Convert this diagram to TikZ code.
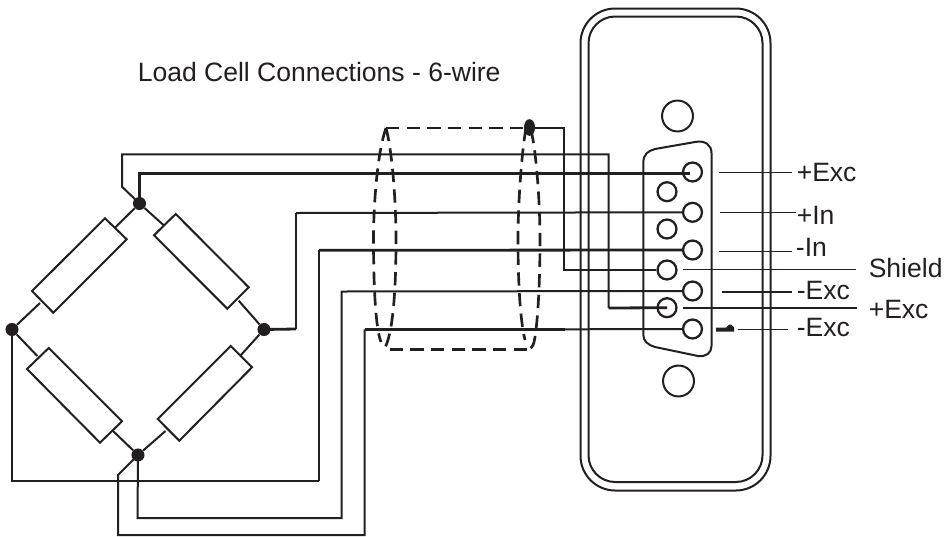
\documentclass[tikz,border=0pt]{standalone}
\usepackage{fontspec}
\usetikzlibrary{shapes.geometric}
\setmainfont{Liberation Sans}
\definecolor{ink}{HTML}{231F20}
\tikzset{
  x=0.75pt,y=-0.75pt,
  wire/.style={draw=ink,line width=1.5pt,line join=miter},
  heavywire/.style={draw=ink,line width=2.1pt},
  res/.style={draw=ink,line width=1.5pt,fill=white},
  lead/.style={draw=ink,line width=0.95pt},
  pin/.style={circle,draw=ink,line width=1.7pt,minimum size=14.2pt,inner sep=0pt,fill=white},
  hole/.style={circle,draw=ink,line width=1.5pt,minimum size=23.2pt,inner sep=0pt},
  junction/.style={circle,fill=ink,minimum size=9.8pt,inner sep=0pt},
  tallblob/.style={ellipse,fill=ink,minimum width=8.3pt,minimum height=12.5pt,inner sep=0pt},
  label/.style={font=\fontsize{19.9pt}{19.9pt}\selectfont,text=ink,inner sep=0pt,anchor=base west},
  shieldline/.style={draw=ink,line width=2pt,dash pattern=on 10pt off 5.5pt},
}
\begin{document}
\begin{tikzpicture}
\useasboundingbox (0,0) rectangle (944,536);
\fill[white] (0,0) rectangle (944,536);

% housing
\draw[draw=ink,line width=1.5pt,rounded corners=26pt] (580.5,8.5) rectangle (770.5,490.5);
\draw[draw=ink,line width=1.5pt,rounded corners=20pt] (588.5,16.5) rectangle (762.5,482);
\node[hole] (holetop) at (677.5,116) {};
\node[hole] (holebot) at (678.5,381) {};

% connector shell
\draw[draw=ink,line width=1.5pt] (643.3,163) .. controls (643.3,154) and (648,151) .. (655,149)
  -- (695,142) .. controls (705,140) and (711.5,145) .. (711.5,153)
  -- (711.5,346) .. controls (711.5,353) and (706,357) .. (698,356)
  -- (655,347) .. controls (648,345) and (643.3,341) .. (643.3,335) -- cycle;

% junctions
\node[junction] (top) at (139.5,203.5) {};
\node[junction] (left) at (12,329.5) {};
\node[junction] (right) at (264,329.5) {};
\node[junction] (bot) at (138,455) {};
\node[tallblob] (sh) at (529.5,127.5) {};

% pins
\node[pin] (p1) at (692.5,172) {};
\node[pin] (p2) at (692.5,212.3) {};
\node[pin] (p3) at (692.5,250) {};
\node[pin] (p4) at (692.5,291) {};
\node[pin] (p5) at (692.5,329) {};
\node[pin] (q1) at (667,191.7) {};
\node[pin] (q2) at (667,229) {};
\node[pin] (q3) at (667,270) {};
\node[pin] (q4) at (667,307.7) {};

% resistors
\draw[res] (105,218.3) -- (126.7,239.3) -- (53.3,312.7) -- (32,291) -- cycle;
\draw[res] (175.7,214) -- (248.7,287.3) -- (227.3,308.7) -- (154,235.3) -- cycle;
\draw[res] (48.7,348) -- (122,421.3) -- (100,442.7) -- (27,369) -- cycle;
\draw[res] (230.7,346) -- (252,367.3) -- (179.3,440.7) -- (157.7,419) -- cycle;

% resistor leads
\coordinate (a1) at (115,227.7);
\coordinate (a2) at (164,225.5);
\coordinate (a3) at (40,303);
\coordinate (a4) at (37.3,356);
\coordinate (a5) at (112.7,430.7);
\coordinate (a6) at (165.5,431);
\coordinate (a7) at (238.7,300.7);
\coordinate (a8) at (240.7,355.3);
\draw[wire] (top) -- (a1) (top) -- (a2) (left) -- (a3) (left) -- (a4)
  (bot) -- (a5) (bot) -- (a6) (right) -- (a7) (right) -- (a8);

% wires
\draw[wire] (top.center) -- (122,186.7) -- (122,154.3) -- (608.7,154.3) -- (608.7,308);
\draw[heavywire] (608.7,308) -- (q4.center);
\draw[heavywire] (top.center) -- (139.5,173.2) -- (690,173.2);
\draw[wire] (296,213) -- (p2.west);
\draw[wire] (296,329) -- (296,213);
\draw[heavywire] (right.center) -- (296,329);
\draw[wire] (319,481) -- (319,250.3);
\draw[wire] (left.center) -- (12,481) -- (319,481);
\draw[heavywire] (319,250.3) -- (p3.west);
\draw[wire] (bot.center) -- (137.5,518) -- (341.5,518) -- (341.5,291.5) -- (p4.west);
\draw[wire] (bot.center) -- (118,475) -- (118,535) -- (364.5,535) -- (364.5,329.3);
\draw[heavywire] (364.5,329.3) -- (565,329.3);
\draw[wire] (565,329.3) -- (p5.west);
\draw[wire] (sh.center) -- (563.7,127.5) -- (563.7,270) -- (q3.west);

% cable shield
\draw[shieldline] (386,128) -- (529,128);
\draw[shieldline] (527,349.5) -- (384,349.5);
\draw[shieldline] (386,128) .. controls (378,150) and (373.5,200) .. (373.5,240)
  .. controls (373.5,290) and (376,330) .. (381,342);
\draw[shieldline] (386,128) .. controls (392,150) and (396,200) .. (396,240)
  .. controls (396,290) and (393,335) .. (384,349.5);
\draw[shieldline] (526,128) .. controls (522,150) and (518,200) .. (518,240)
  .. controls (518,280) and (520,320) .. (525,340);
\draw[shieldline] (531,130) .. controls (536,150) and (540,200) .. (540,240)
  .. controls (540,290) and (537,330) .. (534,342) .. controls (533,347) and (530,349.5) .. (527,349.5);

% small contact mark
\fill[ink] (716,327.5) -- (726,327.5) -- (729,324.5) -- (731,324.5) -- (734,327.5) -- (734,331.5) -- (716,331.5) -- cycle;

% leader lines
\coordinate (l1a) at (719,172.5); \coordinate (l1b) at (791.7,172.5);
\coordinate (l2a) at (720,212.3); \coordinate (l2b) at (796,212.3);
\coordinate (l3a) at (719,251.3); \coordinate (l3b) at (791.7,251.3);
\coordinate (l4a) at (683,269.7); \coordinate (l4b) at (856,269.7);
\coordinate (l5a) at (722,292);   \coordinate (l5b) at (791.7,292);
\coordinate (l6a) at (683,308);   \coordinate (l6b) at (857,308);
\coordinate (l7a) at (737.7,329.7); \coordinate (l7b) at (788,329.7);
\draw[lead] (l1a) -- (l1b) (l2a) -- (l2b) (l3a) -- (l3b) (l4a) -- (l4b)
  (l5a) -- (l5b) (l6a) -- (l6b) (l7a) -- (l7b);

% labels
\node[label] (title) at (137.5,81.5) {Load Cell Connections - 6-wire};
\node[label] (t1) at (796.5,181.3) {+Exc};
\node[label] (t2) at (796.5,224) {+In};
\node[label] (t3) at (795.7,256.8) {-In};
\node[label] (t4) at (868.5,277.3) {Shield};
\node[label] (t5) at (796.5,299.3) {-Exc};
\node[label] (t6) at (868.5,318.3) {+Exc};
\node[label] (t7) at (796.5,336.7) {-Exc};
\end{tikzpicture}
\end{document}
